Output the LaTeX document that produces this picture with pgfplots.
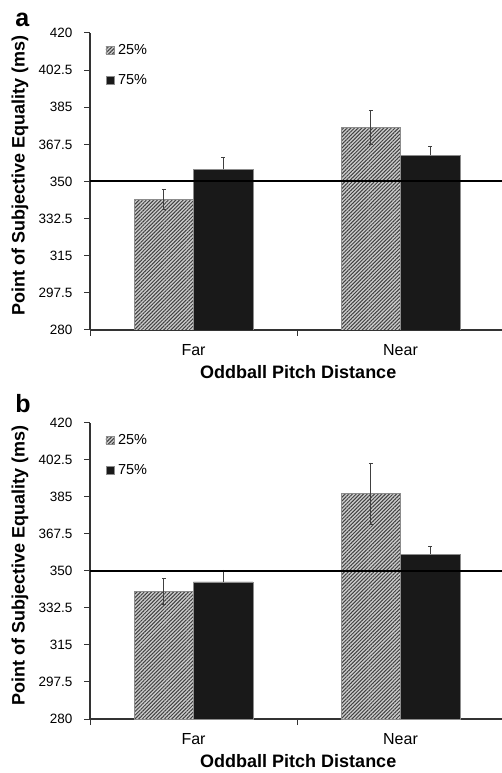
\documentclass[border=0pt]{standalone}
\usepackage{fontspec}
\setmainfont{Liberation Sans}
\usepackage{pgfplots}
\pgfplotsset{compat=1.18}
\usepackage{pgfplotstable}
\usetikzlibrary{patterns.meta}

% cat: 1 = Far, 2 = Near
\pgfplotstableread{
cat v25 e25 v75 e75
1 341.6 4.5 355.7 5.5
2 375.4 8.0 362.3 4.4
}\tabA
\pgfplotstableread{
cat v25 e25 v75 e75
1 340.2 6.2 344.8 5.7
2 386.6 14.5 358.0 3.8
}\tabB

\pgfplotsset{
  psepanel/.style={
    scale only axis, width=414pt,
    xmin=0.5, xmax=2.5, ymin=280, ymax=420,
    axis x line*=bottom, axis y line*=left,
    axis line style={line width=1.2pt, black!80},
    xtick={0.5,1.5,2.5}, xticklabels={},
    extra x ticks={1,2}, extra x tick labels={Far,Near},
    extra x tick style={major tick length=0pt,
      tick label style={font=\fontsize{16}{19}\selectfont, yshift=-11pt}},
    ytick={280,297.5,315,332.5,350,367.5,385,402.5,420},
    tick align=outside, major tick length=6pt,
    tick style={line width=1pt, black!80},
    /pgf/number format/assume math mode=true,
    yticklabel style={font=\fontsize{13.5}{16}\selectfont, xshift=-8pt},
    xlabel={Oddball Pitch Distance},
    ylabel={Point of Subjective Equality (ms)},
    xlabel style={at={(axis description cs:0.503,-0.165)}, anchor=base,
      font=\bfseries\fontsize{18}{21}\selectfont},
    ylabel style={at={(axis description cs:-0.169,0.52)}, anchor=center,
      font=\bfseries\fontsize{18}{21}\selectfont},
    legend style={at={(axis description cs:0.03,0.975)}, anchor=north west,
      draw=none, fill=none, font=\fontsize{14.5}{17}\selectfont,
      row sep=14pt, cells={anchor=west}, nodes={inner xsep=4pt}},
    legend image code/.code={\draw[#1, line width=0.4pt] (0pt,-4pt) rectangle (8pt,4pt);},
    clip mode=individual,
  },
  % bars are 59.5pt wide, one category is 207pt: half a bar = 0.1437 units
  h25/.style={ybar, bar width=59.5pt, bar shift=0pt,
    draw=black!45, line width=0.6pt, fill=black!20,
    postaction={pattern={Lines[angle=45,distance=2.6pt,line width=1pt]}, pattern color=black!75}},
  h75/.style={ybar, bar width=59.5pt, bar shift=0pt,
    draw=black!45, line width=0.6pt, fill=black!90},
  ebar/.style={error bars/.cd, y dir=#1, y explicit,
    error bar style={line width=0.7pt, black!75},
    error mark options={rotate=90, mark size=2pt, line width=0.7pt, black!75}},
}

\begin{document}
\begin{tikzpicture}
\useasboundingbox (0,0) rectangle (502pt,773pt);

% panel a
\begin{axis}[psepanel, height=297pt, at={(90pt,443pt)}, anchor=south west]
\addplot[h25, ebar=both] table[x expr=\thisrow{cat}-0.1437, y=v25, y error=e25] {\tabA};
\addlegendentry{25\%}
\addplot[h75, ebar=plus] table[x expr=\thisrow{cat}+0.1437, y=v75, y error=e75] {\tabA};
\addlegendentry{75\%}
\addplot[black, line width=2pt, forget plot] coordinates {(0.5,350) (2.5,350)};
\node[anchor=base west, inner sep=0pt, font=\bfseries\fontsize{25}{25}\selectfont]
  at (axis description cs:-0.181,1.021) {a};
\end{axis}

% panel b
\begin{axis}[psepanel, height=296pt, at={(90pt,54pt)}, anchor=south west]
\addplot[h25, ebar=both] table[x expr=\thisrow{cat}-0.1437, y=v25, y error=e25] {\tabB};
\addlegendentry{25\%}
\addplot[h75, ebar=plus] table[x expr=\thisrow{cat}+0.1437, y=v75, y error=e75] {\tabB};
\addlegendentry{75\%}
\addplot[black, line width=2pt, forget plot] coordinates {(0.5,350) (2.5,350)};
\node[anchor=base west, inner sep=0pt, font=\bfseries\fontsize{25}{25}\selectfont]
  at (axis description cs:-0.181,1.034) {b};
\end{axis}
\end{tikzpicture}
\end{document}
